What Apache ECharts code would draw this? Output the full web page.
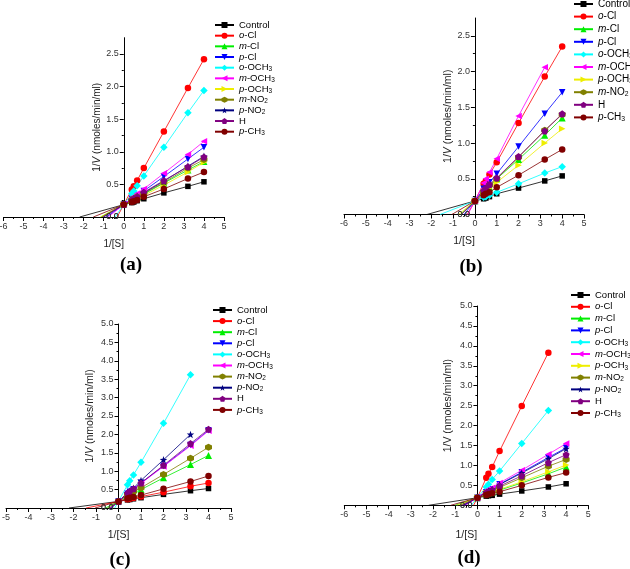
<!DOCTYPE html>
<html><head><meta charset="utf-8">
<script src="https://cdn.jsdelivr.net/npm/echarts@6/dist/echarts.min.js"></script>
<style>html,body{margin:0;padding:0;background:#fff}#c{width:630px;height:569px}</style>
</head><body><div id="c"></div>
<script>
// ---------- data ----------
const xValues = [0.4, 0.5, 0.667, 1, 2, 3.2, 4];
const allNames = ['Control','o-Cl','m-Cl','p-Cl','o-OCH3','m-OCH3','p-OCH3','m-NO2','p-NO2','H','p-CH3'];
const yTicksAB = [0, 0.5, 1.0, 1.5, 2.0, 2.5];
const yTicksCD = [0, 0.5, 1.0, 1.5, 2.0, 2.5, 3.0, 3.5, 4.0, 4.5, 5.0];

// panel (a)
const aNames = ['Control','o-Cl','m-Cl','p-Cl','o-OCH3','m-OCH3','p-OCH3','m-NO2','p-NO2','H','p-CH3'];
const aYIntercept = 0.19;
const aXIntercepts = [-2.2, -0.33, -1.15, -0.86, -0.43, -0.78, -1.17, -1.1, -1.0, -1.04, -1.52];
const a_Control = [0.22,0.23,0.25,0.28,0.37,0.47,0.54];
const a_oCl     = [0.42,0.47,0.56,0.75,1.31,1.98,2.42];
const a_mCl     = [0.26,0.27,0.30,0.35,0.52,0.72,0.85];
const a_pCl     = [0.28,0.30,0.33,0.40,0.62,0.89,1.07];
const a_oOCH3   = [0.36,0.40,0.48,0.63,1.07,1.60,1.94];
const a_mOCH3   = [0.29,0.32,0.36,0.43,0.67,0.96,1.16];
const a_pOCH3   = [0.25,0.27,0.29,0.33,0.49,0.69,0.84];
const a_mNO2    = [0.26,0.28,0.31,0.36,0.53,0.75,0.88];
const a_pNO2    = [0.26,0.28,0.31,0.37,0.55,0.78,0.93];
const a_H       = [0.26,0.28,0.31,0.38,0.56,0.77,0.92];
const a_pCH3    = [0.23,0.24,0.26,0.31,0.43,0.59,0.69];

// panel (b)
const bNames = ['Control','o-Cl','m-Cl','p-Cl','o-OCH3','m-OCH3','p-OCH3','m-NO2','H','p-CH3'];
const bYIntercept = 0.19;
const bXIntercepts = [-2.2, -0.35, -0.65, -0.5, -1.6, -0.33, -0.75, -0.63, -0.62, -1.06];
const b_Control = [0.22,0.23,0.25,0.29,0.37,0.47,0.54];
const b_oCl     = [0.43,0.47,0.56,0.73,1.28,1.93,2.35];
const b_mCl     = [0.31,0.34,0.38,0.50,0.77,1.11,1.35];
const b_pCl     = [0.36,0.40,0.45,0.57,0.95,1.41,1.71];
const b_oOCH3   = [0.24,0.25,0.27,0.31,0.43,0.58,0.67];
const b_mOCH3   = [0.44,0.50,0.59,0.78,1.38,2.06];
const b_pOCH3   = [0.31,0.33,0.37,0.45,0.69,1.00,1.20];
const b_mNO2    = [0.32,0.35,0.41,0.50,0.80,1.18,1.40];
const b_H       = [0.33,0.37,0.42,0.51,0.81,1.17,1.41];
const b_pCH3    = [0.27,0.29,0.31,0.38,0.55,0.77,0.91];

// panel (c)
const cNames = ['Control','o-Cl','m-Cl','p-Cl','o-OCH3','m-OCH3','m-NO2','p-NO2','H','p-CH3'];
const cYIntercept = 0.18;
const cXIntercepts = [-2.2, -1.44, -0.58, -0.37, -0.17, -0.37, -0.49, -0.32, -0.37, -1.04];
const c_Control = [0.22,0.23,0.25,0.28,0.37,0.47,0.53];
const c_oCl     = [0.24,0.25,0.27,0.31,0.43,0.59,0.68];
const c_mCl     = [0.33,0.37,0.41,0.50,0.82,1.18,1.43];
const c_pCl     = [0.39,0.44,0.51,0.68,1.14,1.71,2.11];
const c_oOCH3   = [0.63,0.74,0.90,1.24,2.30,3.62];
const c_mOCH3   = [0.39,0.44,0.51,0.67,1.13,1.69,2.10];
const c_mNO2    = [0.36,0.40,0.45,0.55,0.91,1.35,1.65];
const c_pNO2    = [0.41,0.46,0.54,0.75,1.31,2.00];
const c_H       = [0.40,0.45,0.52,0.68,1.16,1.75,2.14];
const c_pCH3    = [0.26,0.28,0.30,0.35,0.52,0.72,0.87];

// panel (d)
const dNames = ['Control','o-Cl','m-Cl','p-Cl','o-OCH3','m-OCH3','p-OCH3','m-NO2','p-NO2','H','p-CH3'];
const dYIntercept = 0.19;
const dXIntercepts = [-2.2, -0.17, -1.0, -0.61, -0.28, -0.56, -0.93, -0.79, -0.62, -0.70, -1.2];
const d_Control = [0.23,0.24,0.25,0.28,0.36,0.46,0.54];
const d_oCl     = [0.69,0.79,0.96,1.36,2.49,3.83];
const d_mCl     = [0.29,0.31,0.33,0.38,0.56,0.79,0.96];
const d_pCl     = [0.33,0.36,0.40,0.53,0.83,1.20,1.44];
const d_oOCH3   = [0.46,0.53,0.65,0.86,1.55,2.38];
const d_mOCH3   = [0.37,0.40,0.44,0.56,0.88,1.28,1.55];
const d_pOCH3   = [0.30,0.32,0.34,0.40,0.59,0.84,1.01];
const d_mNO2    = [0.31,0.33,0.37,0.45,0.69,0.98,1.15];
const d_pNO2    = [0.33,0.36,0.40,0.52,0.81,1.17,1.42];
const d_H       = [0.32,0.34,0.38,0.48,0.74,1.07,1.27];
const d_pCH3    = [0.26,0.28,0.30,0.34,0.50,0.70,0.82];

// ---------- styles ----------
const COLORS = {'Control':'#000000','o-Cl':'#ff0000','m-Cl':'#00ee00','p-Cl':'#0000ff','o-OCH3':'#00ffff',
  'm-OCH3':'#ff00ff','p-OCH3':'#eeee00','m-NO2':'#808000','p-NO2':'#000080','H':'#800080','p-CH3':'#800000'};
const SYMBOLS = {
  'Control':'rect','o-Cl':'circle','m-Cl':'triangle',
  'p-Cl':'path://M0,0L10,0L5,9Z','o-OCH3':'diamond',
  'm-OCH3':'path://M9,0L9,10L0,5Z','p-OCH3':'path://M0,0L0,10L9,5Z',
  'm-NO2':'path://M5,0L9.33,2.5L9.33,7.5L5,10L0.67,7.5L0.67,2.5Z',
  'p-NO2':'path://M5,0L6.176,3.382L9.755,3.455L6.902,5.618L7.939,9.045L5,7L2.061,9.045L3.098,5.618L0.245,3.455L3.824,3.382Z',
  'H':'path://M5,0L9.755,3.455L7.939,9.045L2.061,9.045L0.245,3.455Z',
  'p-CH3':'circle'
};
const SIZES = {'Control':5.5,'o-Cl':6.5,'m-Cl':7,'p-Cl':6.5,'o-OCH3':7.5,'m-OCH3':6.5,'p-OCH3':6.5,'m-NO2':7,'p-NO2':7.5,'H':7,'p-CH3':6.5};

const panels = [
  {names:aNames, yi:aYIntercept, xi:aXIntercepts, ys:[a_Control,a_oCl,a_mCl,a_pCl,a_oOCH3,a_mOCH3,a_pOCH3,a_mNO2,a_pNO2,a_H,a_pCH3],
   grid:{left:3.5, top:37.7, width:220.5, height:179.3}, xmin:-6, ymax:2.75, yTicks:yTicksAB, yfs:10, italicV:true,
   yGap:21, xGap:22, legend:{left:214, top:20, gap:0.67, lh:10, fs:9.5}},
  {names:bNames, yi:bYIntercept, xi:bXIntercepts, ys:[b_Control,b_oCl,b_mCl,b_pCl,b_oOCH3,b_mOCH3,b_pOCH3,b_mNO2,b_H,b_pCH3],
   grid:{left:344, top:18, width:240, height:196.5}, xmin:-6, ymax:2.75, yTicks:yTicksAB, yfs:10.5, italicV:true,
   yGap:19, xGap:21, legend:{left:573, top:-1.5, gap:1.6, lh:11, fs:10}},
  {names:cNames, yi:cYIntercept, xi:cXIntercepts, ys:[c_Control,c_oCl,c_mCl,c_pCl,c_oOCH3,c_mOCH3,c_mNO2,c_pNO2,c_H,c_pCH3],
   grid:{left:6, top:324, width:225, height:184}, xmin:-5, ymax:5, yTicks:yTicksCD, yfs:10.5, italicV:true,
   yGap:23, xGap:22, legend:{left:212, top:305, gap:1.1, lh:10, fs:9.5}},
  {names:dNames, yi:dYIntercept, xi:dXIntercepts, ys:[d_Control,d_oCl,d_mCl,d_pCl,d_oOCH3,d_mOCH3,d_pOCH3,d_mNO2,d_pNO2,d_H,d_pCH3],
   grid:{left:344.3, top:306, width:244, height:199.3}, xmin:-6, ymax:5, yTicks:yTicksCD, yfs:10.5, italicV:false,
   yGap:24, xGap:24, legend:{left:570, top:290, gap:1.8, lh:10, fs:9.5}}
];

const FONT = '"Liberation Sans", Arial, sans-serif';
const LABEL_MARGIN = 5;

function fmtName(name){
  let out = '', rest = name;
  const m = name.match(/^([omp])-(.*)$/);
  if (m) { out += '{i|' + m[1] + '}'; rest = '-' + m[2]; }
  rest.replace(/(\d+)|(\D+)/g, (all, d, t) => { out += d ? '{s|' + d + '}' : '{n|' + t + '}'; return all; });
  return out;
}

const grids = [], xAxes = [], yAxes = [], series = [], legends = [];
panels.forEach((p, pi) => {
  grids.push(Object.assign({outerBoundsMode:'none', containLabel:false}, p.grid));
  // y axis sits at x = 0: shift it from the grid's left edge into the plot
  const yOffset = -((0 - p.xmin) / (5 - p.xmin)) * p.grid.width;
  xAxes.push({
    type:'value', gridIndex:pi, min:p.xmin, max:5, interval:1,
    name:'1/[S]', nameLocation:'middle', nameGap:p.xGap,
    nameTextStyle:{fontFamily:FONT, fontSize:p.yfs, color:'#222'},
    axisLine:{onZero:false, lineStyle:{color:'#000', width:1}},
    axisTick:{show:true, length:4, lineStyle:{color:'#000'}},
    minorTick:{show:true, splitNumber:2, length:2, lineStyle:{color:'#000'}},
    splitLine:{show:false},
    axisLabel:{fontFamily:FONT, fontSize:9, color:'#333', margin:5}
  });
  yAxes.push({
    type:'value', gridIndex:pi, min:0, max:p.ymax, interval:0.5, position:'left', offset:yOffset,
    name: p.italicV ? '1/{iv|V} (nmoles/min/ml)' : '1/V (nmoles/min/ml)',
    nameLocation:'middle', nameGap:p.yGap,
    nameTextStyle:{fontFamily:FONT, fontSize:p.yfs, color:'#222',
      rich:{iv:{fontFamily:FONT, fontSize:p.yfs, fontStyle:'italic', color:'#222'}}},
    axisLine:{onZero:false, lineStyle:{color:'#000', width:1}},
    axisTick:{show:true, length:4, customValues:p.yTicks, lineStyle:{color:'#000'}},
    minorTick:{show:true, splitNumber:2, length:2, lineStyle:{color:'#000'}},
    splitLine:{show:false},
    axisLabel:{fontFamily:FONT, fontSize:9, color:'#333', margin:LABEL_MARGIN, customValues:p.yTicks,
      formatter:v => v.toFixed(1)}
  });
  p.names.forEach((name, si) => {
    const color = COLORS[name];
    const data = [{value:[p.xi[si], 0], symbol:'none'}, [0, p.yi]];
    p.ys[si].forEach((y, k) => data.push([xValues[k], y]));
    series.push({
      type:'line', name, xAxisIndex:pi, yAxisIndex:pi, data,
      symbol:SYMBOLS[name], symbolSize:SIZES[name],
      lineStyle:{color, width:0.8}, itemStyle:{color},
      emphasis:{disabled:true}, animation:false
    });
  });
  const L = p.legend;
  legends.push({
    data:p.names, orient:'vertical', left:L.left, top:L.top,
    itemWidth:19, itemHeight:7.5, itemGap:L.gap, padding:0,
    selectedMode:false, formatter:fmtName,
    textStyle:{fontFamily:FONT, fontSize:L.fs, color:'#000', lineHeight:L.lh,
      rich:{
        n:{fontFamily:FONT, fontSize:L.fs, lineHeight:L.lh, color:'#000'},
        i:{fontFamily:FONT, fontSize:L.fs, fontStyle:'italic', lineHeight:L.lh, color:'#000'},
        s:{fontFamily:FONT, fontSize:L.fs*0.68, lineHeight:L.lh*0.55, verticalAlign:'bottom', color:'#000'}
      }}
  });
});

const chart = echarts.init(document.getElementById('c'), null, {renderer:'canvas'});
chart.setOption({
  animation:false,
  backgroundColor:'#fff',
  grid:grids, xAxis:xAxes, yAxis:yAxes, legend:legends, series
});

// The axis drops its "0.0" label where it crosses the x axis line; add that tick label back,
// placed through the axis' own scale.
const panelLabels = [['(a)',131,265],['(b)',471,267],['(c)',120,560],['(d)',469,558]];
const graphics = panelLabels.map(l => ({
  type:'text', x:l[1], y:l[2], silent:true,
  style:{text:l[0], font:'bold 19px "Liberation Serif", "Times New Roman", serif', fill:'#000',
    align:'center', verticalAlign:'middle', textAlign:'center', textVerticalAlign:'middle'}
}));
panels.forEach((p, pi) => {
  const pt = chart.convertToPixel({xAxisIndex:pi, yAxisIndex:pi}, [0, p.yTicks[0]]);
  if (!pt) return;
  graphics.push({
    type:'text', x:pt[0] - LABEL_MARGIN, y:pt[1], silent:true, z:10, zlevel:0,
    style:{text:p.yTicks[0].toFixed(1), font:'9px ' + FONT, fill:'#333',
      align:'right', verticalAlign:'middle', textAlign:'right', textVerticalAlign:'middle'}
  });
});
chart.setOption({graphic:graphics});
</script></body></html>
